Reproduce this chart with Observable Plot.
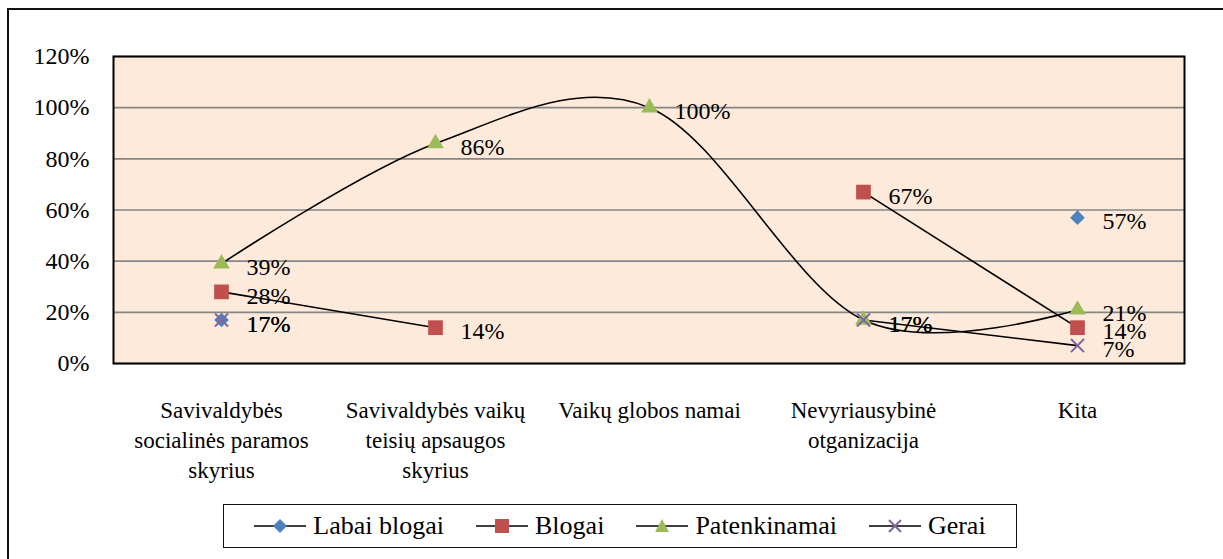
<!DOCTYPE html>
<html>
<head>
<meta charset="utf-8">
<script src="https://cdn.jsdelivr.net/npm/d3@7"></script>
<script src="https://cdn.jsdelivr.net/npm/@observablehq/plot@0.6"></script>
<style>
  html, body { margin: 0; padding: 0; background: #fff; width: 1223px; height: 559px; overflow: hidden; }
  #outer { position: absolute; left: 7px; top: 8px; width: 1260px; height: 600px; border-left: 2px solid #111; border-top: 2px solid #111; }
  #chart { position: absolute; left: 0; top: 0; }
  #legend { position: absolute; left: 223px; top: 504px; width: 792px; height: 42px; border: 1.5px solid #111;
            display: flex; align-items: center; justify-content: center; gap: 32px;
            font-family: "Liberation Serif", "DejaVu Serif", serif; font-size: 26px; color: #000; }
  .item { display: flex; align-items: center; gap: 7px; }
  .item svg { display: block; }
  #chart svg, #chart svg text { font-family: "Liberation Serif", "DejaVu Serif", serif !important; }
</style>
</head>
<body>
<div id="outer"></div>
<div id="chart"></div>
<div id="legend"></div>
<script>
// ---- data ----
const categories = [
  "Savivaldybės\nsocialinės paramos\nskyrius",
  "Savivaldybės vaikų\nteisių apsaugos\nskyrius",
  "Vaikų globos namai",
  "Nevyriausybinė\notganizacija",
  "Kita"
];
const seriesNames = ["Labai blogai", "Blogai", "Patenkinamai", "Gerai"];
const labaiBlogai  = [0.17, null, null, null, 0.57];
const blogai       = [0.28, 0.14, null, 0.67, 0.14];
const patenkinamai = [0.39, 0.86, 1.00, 0.17, 0.21];
const gerai        = [0.17, null, null, 0.17, 0.07];
const yTicks = [0, 0.2, 0.4, 0.6, 0.8, 1.0, 1.2];

// ---- styles ----
const seriesColors  = ["#4F81BD", "#C0504D", "#9BBB59", "#8064A2"];
const seriesSymbols = ["diamond2", "square", "triangle", "times"];
const seriesR       = [6.6, 8.3, 6.2, 6];
const serif = "'Liberation Serif', 'DejaVu Serif', serif";

const allValues = [labaiBlogai, blogai, patenkinamai, gerai];
const rows = [];
seriesNames.forEach((s, si) => {
  categories.forEach((c, ci) => {
    const v = allValues[si][ci];
    rows.push({series: s, cat: c, value: v == null ? NaN : v});
  });
});
const valid = rows.filter(d => !isNaN(d.value));
const pct = d3.format(".0%");

const marks = [
  Plot.frame({fill: "#FDEADA", stroke: null}),
  Plot.gridY(yTicks, {stroke: "#868686", strokeOpacity: 1, strokeWidth: 1.6}),
  Plot.line(rows, {x: "cat", y: "value", z: "series", stroke: "#000", strokeWidth: 1.6, curve: "cardinal", tension: 0}),
];
seriesNames.forEach((s, si) => {
  const data = valid.filter(d => d.series === s);
  const opts = {x: "cat", y: "value", symbol: () => seriesSymbols[si], r: seriesR[si]};
  if (seriesSymbols[si] === "times") { opts.stroke = seriesColors[si]; opts.strokeWidth = 2; opts.fill = "none"; }
  else { opts.fill = seriesColors[si]; opts.stroke = "none"; }
  marks.push(Plot.dot(data, opts));
});
marks.push(Plot.text(valid, {x: "cat", y: "value", text: d => pct(d.value), dx: 25, dy: 4, textAnchor: "start", fontSize: 24, fill: "#000", fontFamily: serif}));
marks.push(Plot.frame({stroke: "#000", strokeWidth: 2}));
marks.push(Plot.axisY(yTicks, {tickFormat: pct, tickSize: 0, tickPadding: 24, fontSize: 24, fill: "#000", fontFamily: serif}));
marks.push(Plot.axisX({tickSize: 0, tickPadding: 33, fontSize: 23, lineHeight: 1.3, lineAnchor: "top", fill: "#000", fontFamily: serif}));

const chart = Plot.plot({
  width: 1223,
  height: 500,
  marginLeft: 113,
  marginRight: 39,
  marginTop: 56,
  marginBottom: 137,
  style: {fontFamily: serif, background: "transparent", color: "#000"},
  x: {type: "point", domain: categories, padding: 0.5, label: null},
  y: {domain: [0, 1.2], label: null},
  marks
});
document.getElementById("chart").appendChild(chart);

// ---- legend ----
const legend = document.getElementById("legend");
const symPaths = {
  diamond2: '<path d="M26,3 L33,10 L26,17 L19,10 Z" fill="#4F81BD"/>',
  square: '<rect x="19" y="3" width="14" height="14" fill="#C0504D"/>',
  triangle: '<path d="M26,3 L33,16 L19,16 Z" fill="#9BBB59"/>',
  times: '<path d="M20,4 L32,16 M32,4 L20,16" stroke="#8064A2" stroke-width="2"/>'
};
seriesNames.forEach((s, si) => {
  const item = document.createElement("div");
  item.className = "item";
  item.innerHTML = '<svg width="52" height="20"><line x1="0" y1="10" x2="52" y2="10" stroke="#000" stroke-width="1.6"/>' +
    symPaths[seriesSymbols[si]] + '</svg><span>' + s + '</span>';
  legend.appendChild(item);
});
</script>
</body>
</html>
